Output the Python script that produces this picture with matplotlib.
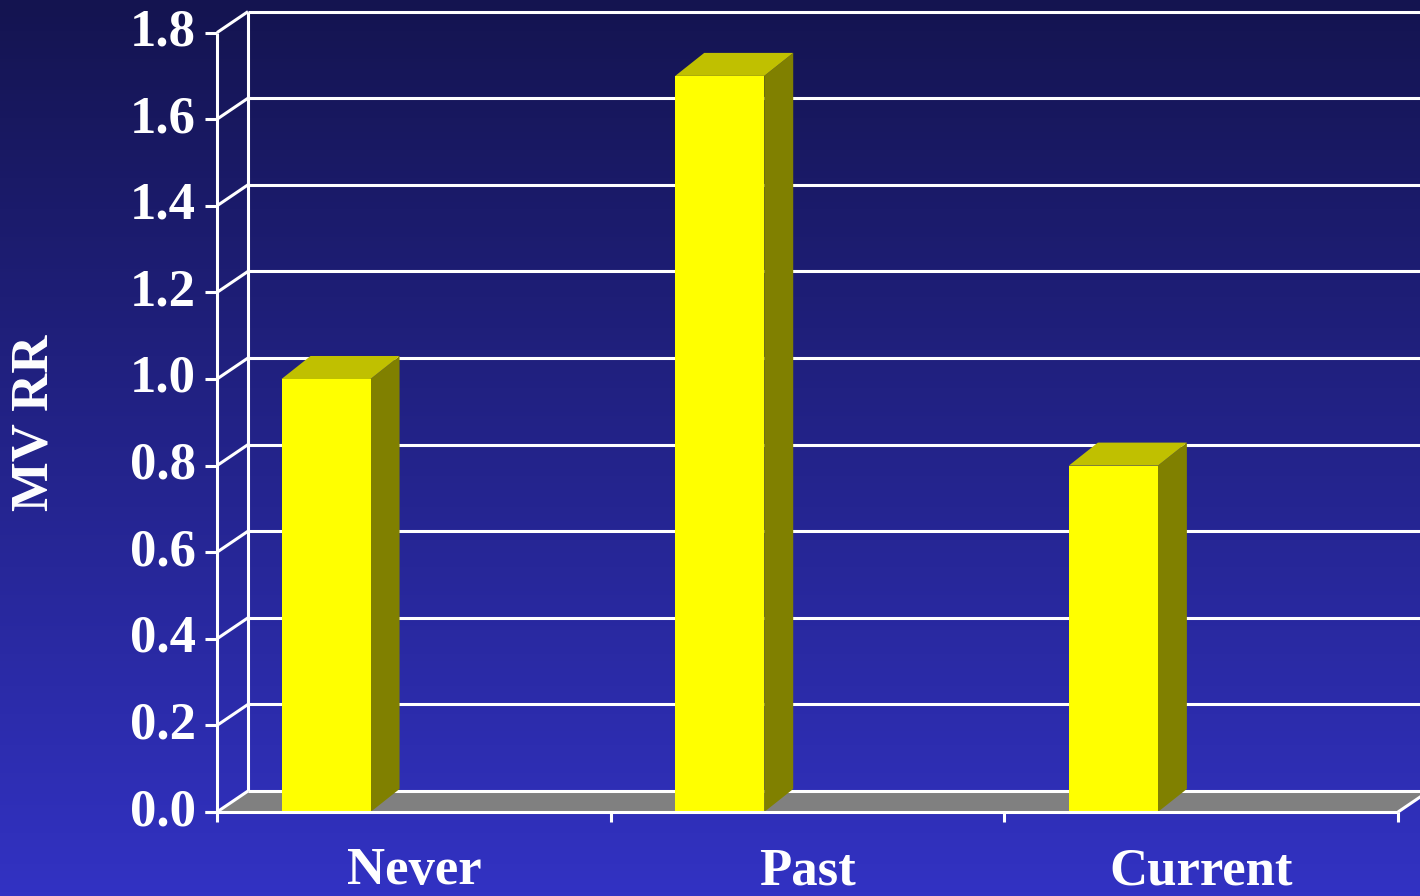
import numpy as np
import matplotlib
matplotlib.use("Agg")
import matplotlib.pyplot as plt
from matplotlib.patches import Polygon

plt.rcParams['font.family'] = ['Liberation Serif', 'DejaVu Serif']

categories = ["Never", "Past", "Current"]
values = [1.0, 1.7, 0.8]
yticks = [0.0, 0.2, 0.4, 0.6, 0.8, 1.0, 1.2, 1.4, 1.6, 1.8]
ylabel = "MV RR"

W, H = 1420, 896
fig = plt.figure(figsize=(W / 100, H / 100), dpi=100)

# gradient background, dark navy at the top to bright blue at the bottom
bg = fig.add_axes([0, 0, 1, 1])
top = np.array([20, 20, 80]) / 255
bot = np.array([50, 50, 195]) / 255
t = np.linspace(0, 1, 256)[:, None]
grad = top[None, None, :] * (1 - t[..., None]) + bot[None, None, :] * t[..., None]
bg.imshow(np.repeat(grad, 2, axis=1), aspect='auto', extent=[0, 1, 0, 1])
bg.axis('off')

# plotting area (front plane)
x0, x1 = 217, 1398
y0 = 812
ppu = 433.0  # pixels per unit on y
ymax = 1.8
ytop = y0 - ymax * ppu
ax = fig.add_axes([x0 / W, (H - y0) / H, (x1 - x0) / W, (y0 - ytop) / H])
ax.set_xlim(0, 3)
ax.set_ylim(0, ymax)
ax.axis('off')

ppx = (x1 - x0) / 3.0
DX, DY = 31 / ppx, 21 / ppu        # depth of the walls
BDX, BDY = 29 / ppx, 23 / ppu      # depth of the columns
white = dict(color='white', lw=2.2, clip_on=False, solid_capstyle='butt')

# floor
ax.add_patch(Polygon([(0, 0), (3, 0), (3 + DX, DY), (DX, DY)],
                     closed=True, fc='#808080', ec='none', clip_on=False, zorder=1))

# back wall grid and left side wall
for y in yticks:
    ax.plot([DX, 3 + DX + 0.2], [y + DY, y + DY], zorder=2, **white)
    ax.plot([0, DX], [y, y + DY], zorder=2, **white)
    ax.plot([-12 / ppx, 0], [y, y], zorder=2, **white)
    ax.text(-21 / ppx, y, f"{y:.1f}", ha='right', va='center',
            fontsize=38, fontweight='bold', color='white')
ax.plot([DX, DX], [DY, ymax + DY], zorder=2, **white)
ax.plot([0, 0], [0, ymax], zorder=2, **white)

# columns
bw = 89 / ppx
for i, v in enumerate(values):
    l = i + 0.277 - bw / 2
    r = l + bw
    ax.add_patch(Polygon([(r, 0), (r + BDX, BDY), (r + BDX, v + BDY), (r, v)],
                         closed=True, fc='#808000', ec='none', zorder=3, clip_on=False))
    ax.add_patch(Polygon([(l, v), (r, v), (r + BDX, v + BDY), (l + BDX, v + BDY)],
                         closed=True, fc='#C0C000', ec='none', zorder=3, clip_on=False))
    ax.add_patch(Polygon([(l, 0), (r, 0), (r, v), (l, v)],
                         closed=True, fc='#FFFF00', ec='none', zorder=4, clip_on=False))

# front floor edge and category ticks
ax.plot([-12 / ppx, 3], [0, 0], zorder=5, **white)
ax.plot([3, 3 + DX], [0, DY], zorder=5, **white)
for xt in range(4):
    ax.plot([xt, xt], [0, -10 / ppu], zorder=5, **white)

for i, c in enumerate(categories):
    ax.text(i + 0.5, -(884 - y0) / ppu, c, ha='center', va='baseline',
            fontsize=38, fontweight='bold', color='white')

fig.text(35 / W, 1 - 423 / H, ylabel, rotation=90, ha='center', va='center',
         fontsize=38, fontweight='bold', color='white')

fig.savefig("out.png", dpi=100)
